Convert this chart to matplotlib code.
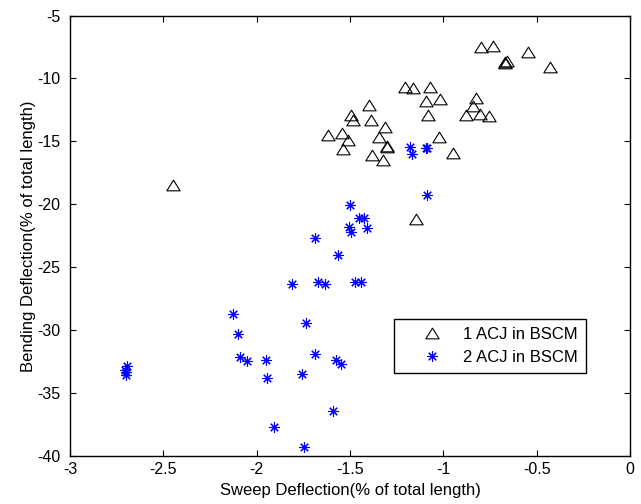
import matplotlib
matplotlib.use("Agg")
import matplotlib.pyplot as plt
from matplotlib.path import Path

plt.rcParams['font.family'] = ['Liberation Sans', 'DejaVu Sans']
plt.rcParams['axes.unicode_minus'] = False

# 1 ACJ in BSCM (triangles)
tri_x = [-0.798, -0.733, -0.547, -0.667, -0.657, -0.672, -0.430, -1.203, -1.160,
         -1.071, -1.092, -1.017, -1.080, -0.824, -0.839, -0.878, -0.805, -0.753,
         -1.396, -1.492, -1.485, -1.388, -1.310, -1.617, -1.544, -1.510, -1.535,
         -1.342, -1.300, -1.304, -1.381, -1.321, -1.024, -0.947, -1.147, -2.446]
tri_y = [-7.47, -7.39, -7.89, -8.71, -8.63, -8.75, -9.11, -10.70, -10.78,
         -10.70, -11.76, -11.60, -12.93, -11.58, -12.16, -12.93, -12.85, -13.01,
         -12.11, -12.93, -13.33, -13.30, -13.85, -14.49, -14.36, -14.92, -15.61,
         -14.65, -15.45, -15.40, -16.11, -16.51, -14.65, -15.90, -21.15, -18.50]

# 2 ACJ in BSCM (stars)
star_x = [-2.695, -2.705, -2.700, -2.699, -2.128, -2.099, -2.087, -2.051, -1.948,
          -1.942, -1.908, -1.810, -1.735, -1.755, -1.747, -1.687, -1.674, -1.632,
          -1.685, -1.562, -1.576, -1.546, -1.589, -1.499, -1.506, -1.494, -1.451,
          -1.423, -1.410, -1.473, -1.439, -1.085, -1.178, -1.169, -1.094, -1.088]
star_y = [-32.85, -33.15, -33.35, -33.60, -28.68, -30.30, -32.15, -32.47, -32.36,
          -33.82, -37.69, -26.32, -29.40, -33.48, -39.31, -22.71, -26.21, -26.34,
          -31.91, -24.04, -32.34, -32.68, -36.45, -20.03, -21.81, -22.18, -21.09,
          -21.09, -21.86, -26.21, -26.21, -19.24, -15.45, -15.98, -15.50, -15.56]

x_ticks = [-3, -2.5, -2, -1.5, -1, -0.5, 0]
x_ticklabels = ['-3', '-2.5', '-2', '-1.5', '-1', '-0.5', '0']
y_ticks = [-40, -35, -30, -25, -20, -15, -10, -5]

fig = plt.figure(figsize=(6.41, 5.04), dpi=100)
ax = fig.add_axes([70/641, (504-456)/504, 560/641, 440.5/504])

tri_marker = Path([(0, 0.8), (-1, -0.8), (1, -0.8), (0, 0.8)],
                  [Path.MOVETO, Path.LINETO, Path.LINETO, Path.CLOSEPOLY])

ax.plot(tri_x, tri_y, linestyle='none', marker=tri_marker, markersize=9.6,
        markerfacecolor='none', markeredgecolor='black', markeredgewidth=0.8,
        label='1 ACJ in BSCM')
ax.plot(star_x, star_y, linestyle='none', marker=(8, 2, 0), markersize=7.5,
        color='blue', markeredgewidth=0.8, label='2 ACJ in BSCM')

ax.set_xlim(-3, 0)
ax.set_ylim(-40, -5)
ax.set_xticks(x_ticks)
ax.set_xticklabels(x_ticklabels)
ax.set_yticks(y_ticks)
ax.tick_params(direction='in', length=4, width=0.8, labelsize=11.5, top=True, right=True)
ax.tick_params(axis='x', pad=4)
ax.tick_params(axis='y', pad=7)
for s in ax.spines.values():
    s.set_linewidth(1.0)

ax.set_xlabel('Sweep Deflection(% of total length)', fontsize=12, labelpad=5)
ax.set_ylabel('Bending Deflection(% of total length)', fontsize=12, labelpad=1)

leg = ax.legend(loc='lower left', bbox_to_anchor=(0.579, 0.188, 0.342, 0.123),
                mode='expand', fontsize=12, frameon=True, fancybox=False,
                edgecolor='black', framealpha=1, handlelength=3.5, handletextpad=0.1,
                labelspacing=0.47, borderpad=0.5, borderaxespad=0)
leg.get_frame().set_linewidth(1.0)

fig.savefig('out.png', dpi=100)
